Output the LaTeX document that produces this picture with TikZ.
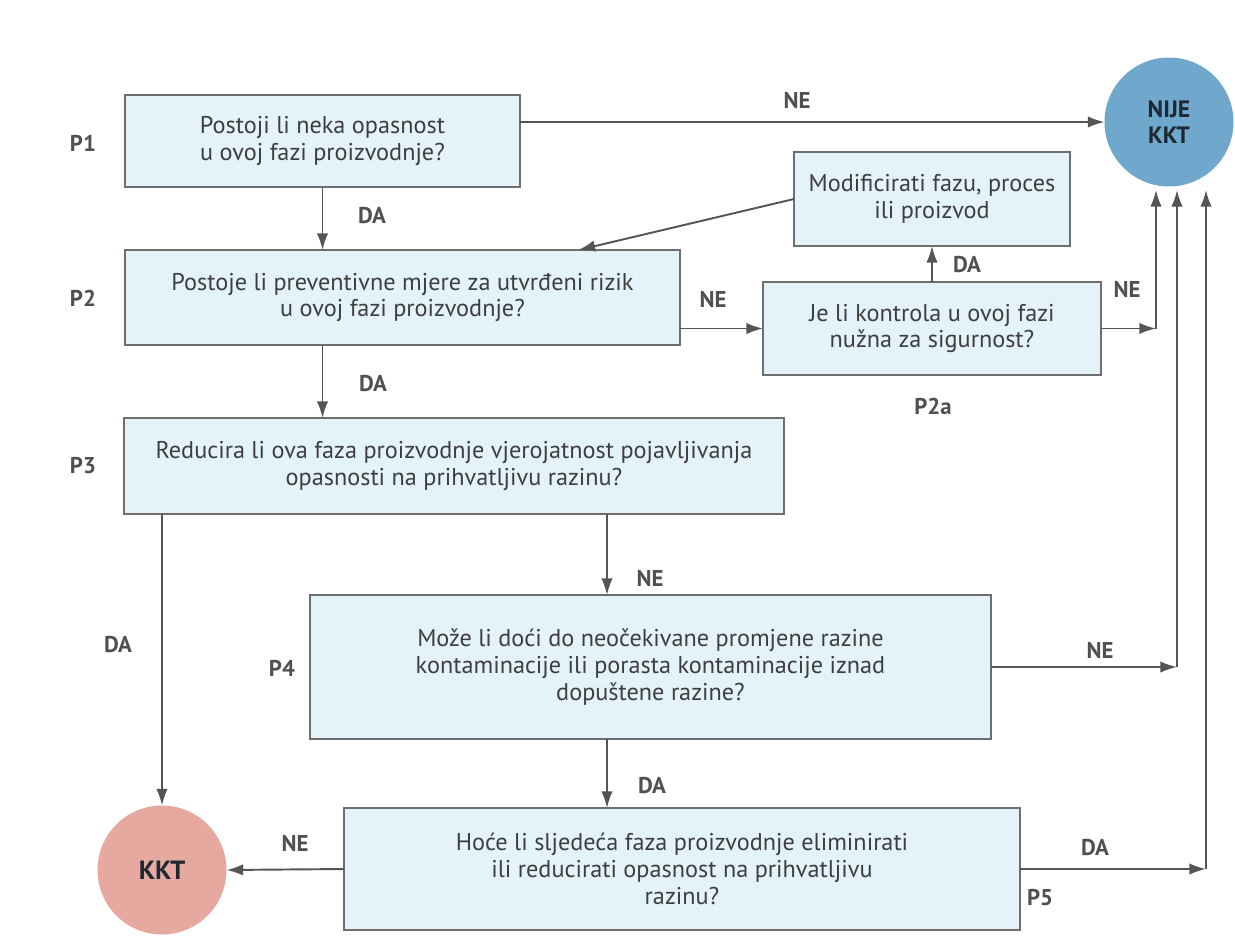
\documentclass[tikz,border=0pt]{standalone}
\usepackage{fontspec}
\setmainfont{PT Sans}
\usetikzlibrary{arrows.meta,calc}
\newlength\pxl \setlength\pxl{0.02cm}
\definecolor{boxfill}{HTML}{E4F3F9}
\definecolor{boxline}{HTML}{6E6E6E}
\definecolor{txt}{HTML}{3E3E3E}
\definecolor{labc}{HTML}{505050}
\definecolor{arrc}{HTML}{555555}
\definecolor{nijefill}{HTML}{6FA8CC}
\definecolor{kktfill}{HTML}{E6A9A0}
\definecolor{circtxt}{HTML}{1E2833}
\begin{document}
\begin{tikzpicture}[x=0.02cm,y=-0.02cm,
  qbox/.style={draw=boxline, line width=1.2pt, fill=boxfill, align=center, text=txt,
    font=\fontsize{13.8}{15.2}\selectfont, inner sep=0pt, outer sep=0pt},
  lab/.style={font=\bfseries\fontsize{13}{14}\selectfont, text=labc, inner sep=0pt},
  circ/.style={circle, inner sep=0pt, outer sep=0pt, minimum size=129\pxl, align=center,
    font=\bfseries\fontsize{13.5}{15}\selectfont, text=circtxt},
  arr/.style={draw=arrc, line width=1.1pt, -{Latex[length=9.5pt,width=6.5pt]}}]
\useasboundingbox (0,0) rectangle (1235,940);
\fill[white] (0,0) rectangle (1235,940);

% nodes
\node[qbox, minimum width=395\pxl, minimum height=92\pxl] (p1) at (322.5,141)
  {Postoji li neka opasnost\\u ovoj fazi proizvodnje?};
\node[qbox, minimum width=555\pxl, minimum height=95\pxl] (p2) at (402.5,297.5)
  {Postoje li preventivne mjere za utvrđeni rizik\\u ovoj fazi proizvodnje?};
\node[qbox, minimum width=660\pxl, minimum height=96\pxl] (p3) at (454,466)
  {Reducira li ova faza proizvodnje vjerojatnost pojavljivanja\\opasnosti na prihvatljivu razinu?};
\node[qbox, minimum width=681\pxl, minimum height=144\pxl] (p4) at (650.5,667)
  {Može li doći do neočekivane promjene razine\\kontaminacije ili porasta kontaminacije iznad\\dopuštene razine?};
\node[qbox, minimum width=676\pxl, minimum height=122\pxl] (p5) at (682,869)
  {Hoće li sljedeća faza proizvodnje eliminirati\\ili reducirati opasnost na prihvatljivu\\razinu?};
\node[qbox, minimum width=276\pxl, minimum height=94\pxl] (mod) at (932,199)
  {Modificirati fazu, proces\\ili proizvod};
\node[qbox, minimum width=338\pxl, minimum height=93\pxl] (p2a) at (932,328.5)
  {Je li kontrola u ovoj fazi\\nužna za sigurnost?};
\node[circ, fill=nijefill] (nije) at (1169,122) {NIJE\\KKT};
\node[circ, fill=kktfill, font=\bfseries\fontsize{15}{16}\selectfont] (kkt) at (162,870) {KKT};

% side labels
\node[lab] (l1) at (83,143) {P1};
\node[lab] (l2) at (83,298) {P2};
\node[lab] (l3) at (83,466) {P3};
\node[lab] (l4) at (282,668) {P4};
\node[lab] (l5) at (1040,898) {P5};
\node[lab] (l2a) at (933,406) {P2a};

% helper coordinates
\coordinate (e1) at (1156,190);
\coordinate (e2) at (1177,190);
\coordinate (e3) at (1206,190);
\coordinate (cx) at (607,0);

% connectors
\draw[arr] (p1.east |- nije.west) -- (nije.west);
\node[lab] at (797,101) {NE};

\draw[arr] (p1.south) -- (p1.south |- p2.north);
\node[lab] at (372,216) {DA};

\draw[arr] (mod.west) -- ($(p2.north west)!0.817!(p2.north east)$);

\draw[arr] (p2.east |- p2a.west) -- (p2a.west);
\node[lab] at (713,300) {NE};

\draw[arr] (p2a.north) -- (mod.south);
\node[lab] at (967,265) {DA};

\draw[arr] (p2a.east) -- (p2a.east -| e1);
\draw[arr] (p2a.east -| e1) -- (e1);
\node[lab] at (1127,290) {NE};

\draw[arr] (p2.south -| p1.south) -- (p3.north -| p1.south);
\node[lab] at (373,384) {DA};

\draw[arr] (p3.south -| kkt.north) -- (kkt.north);
\node[lab] at (118,645) {DA};

\draw[arr] (p3.south -| cx) -- (p4.north -| cx);
\node[lab] at (650,579) {NE};

\draw[arr] (p4.east) -- (p4.east -| e2);
\draw[arr] (p4.east -| e2) -- (e2);
\node[lab] at (1100,650) {NE};

\draw[arr] (p4.south -| cx) -- (p5.north -| cx);
\node[lab] at (652,786) {DA};

\draw[arr] (p5.west) -- (kkt.east);
\node[lab] at (295,843) {NE};

\draw[arr] (p5.east) -- (p5.east -| e3);
\draw[arr] (p5.east -| e3) -- (e3);
\node[lab] at (1095,848) {DA};
\end{tikzpicture}
\end{document}
